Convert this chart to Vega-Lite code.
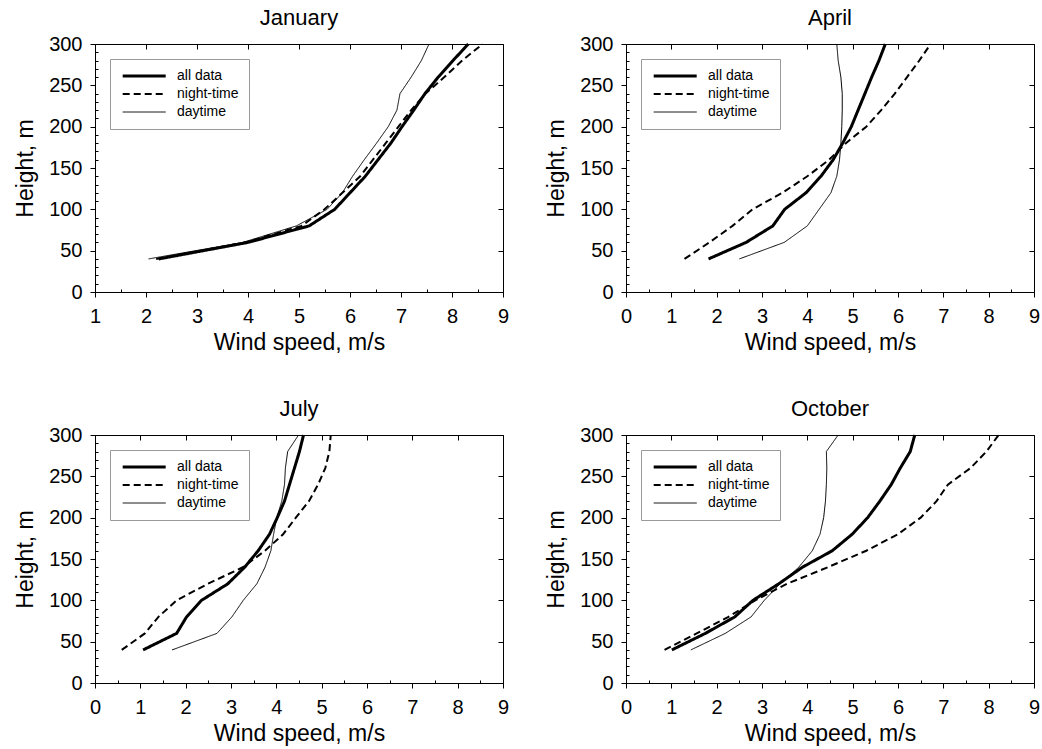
{
  "$schema": "https://vega.github.io/schema/vega-lite/v6.json",
  "padding": {"left": 14, "top": 6, "right": 5, "bottom": 5},
  "background": "white",
  "datasets": {
    "profiles": [
      {"month":"January","series":"all data","speed":2.25,"height":40},
      {"month":"January","series":"all data","speed":4.0,"height":60},
      {"month":"January","series":"all data","speed":5.2,"height":80},
      {"month":"January","series":"all data","speed":5.7,"height":100},
      {"month":"January","series":"all data","speed":6.0,"height":120},
      {"month":"January","series":"all data","speed":6.3,"height":140},
      {"month":"January","series":"all data","speed":6.55,"height":160},
      {"month":"January","series":"all data","speed":6.8,"height":180},
      {"month":"January","series":"all data","speed":7.02,"height":200},
      {"month":"January","series":"all data","speed":7.25,"height":220},
      {"month":"January","series":"all data","speed":7.47,"height":240},
      {"month":"January","series":"all data","speed":7.73,"height":260},
      {"month":"January","series":"all data","speed":8.02,"height":280},
      {"month":"January","series":"all data","speed":8.32,"height":300},
      {"month":"January","series":"night-time","speed":2.2,"height":40},
      {"month":"January","series":"night-time","speed":3.95,"height":60},
      {"month":"January","series":"night-time","speed":5.05,"height":80},
      {"month":"January","series":"night-time","speed":5.5,"height":100},
      {"month":"January","series":"night-time","speed":5.85,"height":120},
      {"month":"January","series":"night-time","speed":6.2,"height":140},
      {"month":"January","series":"night-time","speed":6.45,"height":160},
      {"month":"January","series":"night-time","speed":6.7,"height":180},
      {"month":"January","series":"night-time","speed":6.95,"height":200},
      {"month":"January","series":"night-time","speed":7.2,"height":220},
      {"month":"January","series":"night-time","speed":7.48,"height":240},
      {"month":"January","series":"night-time","speed":7.85,"height":260},
      {"month":"January","series":"night-time","speed":8.2,"height":280},
      {"month":"January","series":"night-time","speed":8.6,"height":300},
      {"month":"January","series":"daytime","speed":2.05,"height":40},
      {"month":"January","series":"daytime","speed":3.9,"height":60},
      {"month":"January","series":"daytime","speed":4.95,"height":80},
      {"month":"January","series":"daytime","speed":5.55,"height":100},
      {"month":"January","series":"daytime","speed":5.85,"height":120},
      {"month":"January","series":"daytime","speed":6.05,"height":140},
      {"month":"January","series":"daytime","speed":6.28,"height":160},
      {"month":"January","series":"daytime","speed":6.52,"height":180},
      {"month":"January","series":"daytime","speed":6.75,"height":200},
      {"month":"January","series":"daytime","speed":6.92,"height":220},
      {"month":"January","series":"daytime","speed":6.98,"height":240},
      {"month":"January","series":"daytime","speed":7.2,"height":260},
      {"month":"January","series":"daytime","speed":7.4,"height":280},
      {"month":"January","series":"daytime","speed":7.55,"height":300},

      {"month":"April","series":"all data","speed":1.82,"height":40},
      {"month":"April","series":"all data","speed":2.65,"height":60},
      {"month":"April","series":"all data","speed":3.24,"height":80},
      {"month":"April","series":"all data","speed":3.5,"height":100},
      {"month":"April","series":"all data","speed":3.97,"height":120},
      {"month":"April","series":"all data","speed":4.3,"height":140},
      {"month":"April","series":"all data","speed":4.57,"height":160},
      {"month":"April","series":"all data","speed":4.78,"height":180},
      {"month":"April","series":"all data","speed":4.97,"height":200},
      {"month":"April","series":"all data","speed":5.12,"height":220},
      {"month":"April","series":"all data","speed":5.27,"height":240},
      {"month":"April","series":"all data","speed":5.42,"height":260},
      {"month":"April","series":"all data","speed":5.58,"height":280},
      {"month":"April","series":"all data","speed":5.72,"height":300},
      {"month":"April","series":"night-time","speed":1.29,"height":40},
      {"month":"April","series":"night-time","speed":1.84,"height":60},
      {"month":"April","series":"night-time","speed":2.35,"height":80},
      {"month":"April","series":"night-time","speed":2.79,"height":100},
      {"month":"April","series":"night-time","speed":3.45,"height":120},
      {"month":"April","series":"night-time","speed":4.0,"height":140},
      {"month":"April","series":"night-time","speed":4.48,"height":160},
      {"month":"April","series":"night-time","speed":4.85,"height":180},
      {"month":"April","series":"night-time","speed":5.3,"height":200},
      {"month":"April","series":"night-time","speed":5.63,"height":220},
      {"month":"April","series":"night-time","speed":5.93,"height":240},
      {"month":"April","series":"night-time","speed":6.2,"height":260},
      {"month":"April","series":"night-time","speed":6.47,"height":280},
      {"month":"April","series":"night-time","speed":6.72,"height":300},
      {"month":"April","series":"daytime","speed":2.5,"height":40},
      {"month":"April","series":"daytime","speed":3.49,"height":60},
      {"month":"April","series":"daytime","speed":4.0,"height":80},
      {"month":"April","series":"daytime","speed":4.26,"height":100},
      {"month":"April","series":"daytime","speed":4.52,"height":120},
      {"month":"April","series":"daytime","speed":4.65,"height":140},
      {"month":"April","series":"daytime","speed":4.71,"height":160},
      {"month":"April","series":"daytime","speed":4.74,"height":180},
      {"month":"April","series":"daytime","speed":4.76,"height":200},
      {"month":"April","series":"daytime","speed":4.77,"height":220},
      {"month":"April","series":"daytime","speed":4.77,"height":240},
      {"month":"April","series":"daytime","speed":4.74,"height":260},
      {"month":"April","series":"daytime","speed":4.68,"height":280},
      {"month":"April","series":"daytime","speed":4.65,"height":300},

      {"month":"July","series":"all data","speed":1.06,"height":40},
      {"month":"July","series":"all data","speed":1.8,"height":60},
      {"month":"July","series":"all data","speed":2.02,"height":80},
      {"month":"July","series":"all data","speed":2.35,"height":100},
      {"month":"July","series":"all data","speed":2.93,"height":120},
      {"month":"July","series":"all data","speed":3.3,"height":140},
      {"month":"July","series":"all data","speed":3.6,"height":160},
      {"month":"July","series":"all data","speed":3.85,"height":180},
      {"month":"July","series":"all data","speed":4.02,"height":200},
      {"month":"July","series":"all data","speed":4.18,"height":220},
      {"month":"July","series":"all data","speed":4.29,"height":240},
      {"month":"July","series":"all data","speed":4.4,"height":260},
      {"month":"July","series":"all data","speed":4.51,"height":280},
      {"month":"July","series":"all data","speed":4.6,"height":300},
      {"month":"July","series":"night-time","speed":0.59,"height":40},
      {"month":"July","series":"night-time","speed":1.1,"height":60},
      {"month":"July","series":"night-time","speed":1.4,"height":80},
      {"month":"July","series":"night-time","speed":1.8,"height":100},
      {"month":"July","series":"night-time","speed":2.49,"height":120},
      {"month":"July","series":"night-time","speed":3.26,"height":140},
      {"month":"July","series":"night-time","speed":3.75,"height":160},
      {"month":"July","series":"night-time","speed":4.15,"height":180},
      {"month":"July","series":"night-time","speed":4.43,"height":200},
      {"month":"July","series":"night-time","speed":4.72,"height":220},
      {"month":"July","series":"night-time","speed":4.92,"height":240},
      {"month":"July","series":"night-time","speed":5.08,"height":260},
      {"month":"July","series":"night-time","speed":5.17,"height":280},
      {"month":"July","series":"night-time","speed":5.2,"height":300},
      {"month":"July","series":"daytime","speed":1.7,"height":40},
      {"month":"July","series":"daytime","speed":2.69,"height":60},
      {"month":"July","series":"daytime","speed":3.02,"height":80},
      {"month":"July","series":"daytime","speed":3.27,"height":100},
      {"month":"July","series":"daytime","speed":3.57,"height":120},
      {"month":"July","series":"daytime","speed":3.75,"height":140},
      {"month":"July","series":"daytime","speed":3.88,"height":160},
      {"month":"July","series":"daytime","speed":3.94,"height":180},
      {"month":"July","series":"daytime","speed":4.01,"height":200},
      {"month":"July","series":"daytime","speed":4.12,"height":220},
      {"month":"July","series":"daytime","speed":4.18,"height":240},
      {"month":"July","series":"daytime","speed":4.2,"height":260},
      {"month":"July","series":"daytime","speed":4.25,"height":280},
      {"month":"July","series":"daytime","speed":4.49,"height":300},

      {"month":"October","series":"all data","speed":1.01,"height":40},
      {"month":"October","series":"all data","speed":1.75,"height":60},
      {"month":"October","series":"all data","speed":2.4,"height":80},
      {"month":"October","series":"all data","speed":2.8,"height":100},
      {"month":"October","series":"all data","speed":3.37,"height":120},
      {"month":"October","series":"all data","speed":3.89,"height":140},
      {"month":"October","series":"all data","speed":4.55,"height":160},
      {"month":"October","series":"all data","speed":4.99,"height":180},
      {"month":"October","series":"all data","speed":5.33,"height":200},
      {"month":"October","series":"all data","speed":5.6,"height":220},
      {"month":"October","series":"all data","speed":5.85,"height":240},
      {"month":"October","series":"all data","speed":6.05,"height":260},
      {"month":"October","series":"all data","speed":6.27,"height":280},
      {"month":"October","series":"all data","speed":6.37,"height":300},
      {"month":"October","series":"night-time","speed":0.85,"height":40},
      {"month":"October","series":"night-time","speed":1.56,"height":60},
      {"month":"October","series":"night-time","speed":2.26,"height":80},
      {"month":"October","series":"night-time","speed":2.85,"height":100},
      {"month":"October","series":"night-time","speed":3.55,"height":120},
      {"month":"October","series":"night-time","speed":4.45,"height":140},
      {"month":"October","series":"night-time","speed":5.3,"height":160},
      {"month":"October","series":"night-time","speed":6.0,"height":180},
      {"month":"October","series":"night-time","speed":6.5,"height":200},
      {"month":"October","series":"night-time","speed":6.85,"height":220},
      {"month":"October","series":"night-time","speed":7.1,"height":240},
      {"month":"October","series":"night-time","speed":7.6,"height":260},
      {"month":"October","series":"night-time","speed":7.95,"height":280},
      {"month":"October","series":"night-time","speed":8.22,"height":300},
      {"month":"October","series":"daytime","speed":1.43,"height":40},
      {"month":"October","series":"daytime","speed":2.19,"height":60},
      {"month":"October","series":"daytime","speed":2.76,"height":80},
      {"month":"October","series":"daytime","speed":3.05,"height":100},
      {"month":"October","series":"daytime","speed":3.4,"height":120},
      {"month":"October","series":"daytime","speed":3.81,"height":140},
      {"month":"October","series":"daytime","speed":4.11,"height":160},
      {"month":"October","series":"daytime","speed":4.28,"height":180},
      {"month":"October","series":"daytime","speed":4.36,"height":200},
      {"month":"October","series":"daytime","speed":4.4,"height":220},
      {"month":"October","series":"daytime","speed":4.42,"height":240},
      {"month":"October","series":"daytime","speed":4.43,"height":260},
      {"month":"October","series":"daytime","speed":4.42,"height":280},
      {"month":"October","series":"daytime","speed":4.68,"height":300}
    ]
  },
  "data": {"name": "profiles"},
  "columns": 2,
  "spacing": {"row": 42, "column": 35},
  "concat": [
    {
      "title": "January",
      "width": 408, "height": 248,
      "transform": [{"filter": "datum.month == 'January'"}],
      "layer": [
        {
          "mark": {"type": "line", "color": "black"},
          "encoding": {
            "x": {"field": "speed", "type": "quantitative", "scale": {"domain": [1, 9], "nice": false, "zero": false}, "axis": {"orient": "bottom", "values": [1,2,3,4,5,6,7,8,9], "title": "Wind speed, m/s", "labelFontSize": 20, "titleFontSize": 23, "labelPadding": 9, "titlePadding": 5}},
            "y": {"field": "height", "type": "quantitative", "scale": {"domain": [0, 300], "nice": false}, "axis": {"orient": "left", "values": [0,50,100,150,200,250,300], "title": "Height, m", "labelFontSize": 20, "titleFontSize": 23, "labelPadding": 8, "titlePadding": 11}},
            "strokeDash": {"field": "series", "type": "nominal", "scale": {"domain": ["all data", "night-time", "daytime"], "range": [[1, 0], [7, 4], [1, 0]]}, "legend": {"title": null}},
            "strokeWidth": {"field": "series", "type": "ordinal", "scale": {"domain": ["all data", "night-time", "daytime"], "range": [3, 1, 1]}, "legend": {"title": null}},
            "order": {"field": "height", "type": "quantitative"}
          }
        },
        {
          "mark": {"type": "line", "strokeOpacity": 0},
          "encoding": {
            "x": {"field": "speed", "type": "quantitative", "scale": {"domain": [1, 9], "nice": false, "zero": false}, "axis": {"orient": "top", "values": [1,2,3,4,5,6,7,8,9], "labels": false, "title": null, "tickSize": -5, "domain": false}},
            "y": {"field": "height", "type": "quantitative", "scale": {"domain": [0, 300], "nice": false}, "axis": {"orient": "right", "values": [0,50,100,150,200,250,300], "labels": false, "title": null, "tickSize": -5, "domain": false}},
            "detail": {"field": "series"}
          }
        },
        {
          "mark": {"type": "line", "strokeOpacity": 0},
          "encoding": {
            "x": {"field": "speed", "type": "quantitative", "scale": {"domain": [1, 9], "nice": false, "zero": false}, "axis": {"orient": "bottom", "values": [1.5,2.5,3.5,4.5,5.5,6.5,7.5,8.5], "labels": false, "title": null, "tickSize": -3, "domain": false}},
            "y": {"field": "height", "type": "quantitative", "scale": {"domain": [0, 300], "nice": false}, "axis": {"orient": "left", "values": [10,20,30,40,60,70,80,90,110,120,130,140,160,170,180,190,210,220,230,240,260,270,280,290], "labels": false, "title": null, "tickSize": -3, "domain": false}},
            "detail": {"field": "series"}
          }
        }
      ],
      "resolve": {"axis": {"x": "independent", "y": "independent"}}
    },
    {
      "title": "April",
      "width": 408, "height": 248,
      "transform": [{"filter": "datum.month == 'April'"}],
      "layer": [
        {
          "mark": {"type": "line", "color": "black"},
          "encoding": {
            "x": {"field": "speed", "type": "quantitative", "scale": {"domain": [0, 9], "nice": false, "zero": false}, "axis": {"orient": "bottom", "values": [0,1,2,3,4,5,6,7,8,9], "title": "Wind speed, m/s", "labelFontSize": 20, "titleFontSize": 23, "labelPadding": 9, "titlePadding": 5}},
            "y": {"field": "height", "type": "quantitative", "scale": {"domain": [0, 300], "nice": false}, "axis": {"orient": "left", "values": [0,50,100,150,200,250,300], "title": "Height, m", "labelFontSize": 20, "titleFontSize": 23, "labelPadding": 8, "titlePadding": 11}},
            "strokeDash": {"field": "series", "type": "nominal", "scale": {"domain": ["all data", "night-time", "daytime"], "range": [[1, 0], [7, 4], [1, 0]]}, "legend": {"title": null}},
            "strokeWidth": {"field": "series", "type": "ordinal", "scale": {"domain": ["all data", "night-time", "daytime"], "range": [3, 1, 1]}, "legend": {"title": null}},
            "order": {"field": "height", "type": "quantitative"}
          }
        },
        {
          "mark": {"type": "line", "strokeOpacity": 0},
          "encoding": {
            "x": {"field": "speed", "type": "quantitative", "scale": {"domain": [0, 9], "nice": false, "zero": false}, "axis": {"orient": "top", "values": [0,1,2,3,4,5,6,7,8,9], "labels": false, "title": null, "tickSize": -5, "domain": false}},
            "y": {"field": "height", "type": "quantitative", "scale": {"domain": [0, 300], "nice": false}, "axis": {"orient": "right", "values": [0,50,100,150,200,250,300], "labels": false, "title": null, "tickSize": -5, "domain": false}},
            "detail": {"field": "series"}
          }
        },
        {
          "mark": {"type": "line", "strokeOpacity": 0},
          "encoding": {
            "x": {"field": "speed", "type": "quantitative", "scale": {"domain": [0, 9], "nice": false, "zero": false}, "axis": {"orient": "bottom", "values": [0.5,1.5,2.5,3.5,4.5,5.5,6.5,7.5,8.5], "labels": false, "title": null, "tickSize": -3, "domain": false}},
            "y": {"field": "height", "type": "quantitative", "scale": {"domain": [0, 300], "nice": false}, "axis": {"orient": "left", "values": [10,20,30,40,60,70,80,90,110,120,130,140,160,170,180,190,210,220,230,240,260,270,280,290], "labels": false, "title": null, "tickSize": -3, "domain": false}},
            "detail": {"field": "series"}
          }
        }
      ],
      "resolve": {"axis": {"x": "independent", "y": "independent"}}
    },
    {
      "title": "July",
      "width": 408, "height": 248,
      "transform": [{"filter": "datum.month == 'July'"}],
      "layer": [
        {
          "mark": {"type": "line", "color": "black"},
          "encoding": {
            "x": {"field": "speed", "type": "quantitative", "scale": {"domain": [0, 9], "nice": false, "zero": false}, "axis": {"orient": "bottom", "values": [0,1,2,3,4,5,6,7,8,9], "title": "Wind speed, m/s", "labelFontSize": 20, "titleFontSize": 23, "labelPadding": 9, "titlePadding": 5}},
            "y": {"field": "height", "type": "quantitative", "scale": {"domain": [0, 300], "nice": false}, "axis": {"orient": "left", "values": [0,50,100,150,200,250,300], "title": "Height, m", "labelFontSize": 20, "titleFontSize": 23, "labelPadding": 8, "titlePadding": 11}},
            "strokeDash": {"field": "series", "type": "nominal", "scale": {"domain": ["all data", "night-time", "daytime"], "range": [[1, 0], [7, 4], [1, 0]]}, "legend": {"title": null}},
            "strokeWidth": {"field": "series", "type": "ordinal", "scale": {"domain": ["all data", "night-time", "daytime"], "range": [3, 1, 1]}, "legend": {"title": null}},
            "order": {"field": "height", "type": "quantitative"}
          }
        },
        {
          "mark": {"type": "line", "strokeOpacity": 0},
          "encoding": {
            "x": {"field": "speed", "type": "quantitative", "scale": {"domain": [0, 9], "nice": false, "zero": false}, "axis": {"orient": "top", "values": [0,1,2,3,4,5,6,7,8,9], "labels": false, "title": null, "tickSize": -5, "domain": false}},
            "y": {"field": "height", "type": "quantitative", "scale": {"domain": [0, 300], "nice": false}, "axis": {"orient": "right", "values": [0,50,100,150,200,250,300], "labels": false, "title": null, "tickSize": -5, "domain": false}},
            "detail": {"field": "series"}
          }
        },
        {
          "mark": {"type": "line", "strokeOpacity": 0},
          "encoding": {
            "x": {"field": "speed", "type": "quantitative", "scale": {"domain": [0, 9], "nice": false, "zero": false}, "axis": {"orient": "bottom", "values": [0.5,1.5,2.5,3.5,4.5,5.5,6.5,7.5,8.5], "labels": false, "title": null, "tickSize": -3, "domain": false}},
            "y": {"field": "height", "type": "quantitative", "scale": {"domain": [0, 300], "nice": false}, "axis": {"orient": "left", "values": [10,20,30,40,60,70,80,90,110,120,130,140,160,170,180,190,210,220,230,240,260,270,280,290], "labels": false, "title": null, "tickSize": -3, "domain": false}},
            "detail": {"field": "series"}
          }
        }
      ],
      "resolve": {"axis": {"x": "independent", "y": "independent"}}
    },
    {
      "title": "October",
      "width": 408, "height": 248,
      "transform": [{"filter": "datum.month == 'October'"}],
      "layer": [
        {
          "mark": {"type": "line", "color": "black"},
          "encoding": {
            "x": {"field": "speed", "type": "quantitative", "scale": {"domain": [0, 9], "nice": false, "zero": false}, "axis": {"orient": "bottom", "values": [0,1,2,3,4,5,6,7,8,9], "title": "Wind speed, m/s", "labelFontSize": 20, "titleFontSize": 23, "labelPadding": 9, "titlePadding": 5}},
            "y": {"field": "height", "type": "quantitative", "scale": {"domain": [0, 300], "nice": false}, "axis": {"orient": "left", "values": [0,50,100,150,200,250,300], "title": "Height, m", "labelFontSize": 20, "titleFontSize": 23, "labelPadding": 8, "titlePadding": 11}},
            "strokeDash": {"field": "series", "type": "nominal", "scale": {"domain": ["all data", "night-time", "daytime"], "range": [[1, 0], [7, 4], [1, 0]]}, "legend": {"title": null}},
            "strokeWidth": {"field": "series", "type": "ordinal", "scale": {"domain": ["all data", "night-time", "daytime"], "range": [3, 1, 1]}, "legend": {"title": null}},
            "order": {"field": "height", "type": "quantitative"}
          }
        },
        {
          "mark": {"type": "line", "strokeOpacity": 0},
          "encoding": {
            "x": {"field": "speed", "type": "quantitative", "scale": {"domain": [0, 9], "nice": false, "zero": false}, "axis": {"orient": "top", "values": [0,1,2,3,4,5,6,7,8,9], "labels": false, "title": null, "tickSize": -5, "domain": false}},
            "y": {"field": "height", "type": "quantitative", "scale": {"domain": [0, 300], "nice": false}, "axis": {"orient": "right", "values": [0,50,100,150,200,250,300], "labels": false, "title": null, "tickSize": -5, "domain": false}},
            "detail": {"field": "series"}
          }
        },
        {
          "mark": {"type": "line", "strokeOpacity": 0},
          "encoding": {
            "x": {"field": "speed", "type": "quantitative", "scale": {"domain": [0, 9], "nice": false, "zero": false}, "axis": {"orient": "bottom", "values": [0.5,1.5,2.5,3.5,4.5,5.5,6.5,7.5,8.5], "labels": false, "title": null, "tickSize": -3, "domain": false}},
            "y": {"field": "height", "type": "quantitative", "scale": {"domain": [0, 300], "nice": false}, "axis": {"orient": "left", "values": [10,20,30,40,60,70,80,90,110,120,130,140,160,170,180,190,210,220,230,240,260,270,280,290], "labels": false, "title": null, "tickSize": -3, "domain": false}},
            "detail": {"field": "series"}
          }
        }
      ],
      "resolve": {"axis": {"x": "independent", "y": "independent"}}
    }
  ],
  "resolve": {
    "scale": {"x": "independent", "y": "independent", "strokeDash": "independent", "strokeWidth": "independent"},
    "axis": {"x": "independent", "y": "independent"},
    "legend": {"strokeDash": "independent", "strokeWidth": "independent"}
  },
  "config": {
    "font": "Liberation Sans",
    "view": {"stroke": "black", "strokeWidth": 1},
    "title": {"font": "Liberation Sans", "fontSize": 22, "fontWeight": "normal", "color": "black", "offset": 0, "anchor": "middle"},
    "axis": {
      "grid": false,
      "domainColor": "black",
      "tickColor": "black",
      "tickSize": 5,
      "labelColor": "black",
      "titleColor": "black",
      "labelFont": "Liberation Sans",
      "titleFont": "Liberation Sans",
      "titleFontWeight": "normal",
      "labelFlush": false,
      "labelOverlap": false
    },
    "legend": {
      "orient": "top-left",
      "offset": 15,
      "strokeColor": "#999999",
      "padding": 10,
      "symbolType": "M-1,0H9",
      "symbolSize": 74,
      "symbolStrokeColor": "black",
      "labelFont": "Liberation Sans",
      "labelFontSize": 14,
      "labelColor": "black",
      "labelOffset": 43,
      "rowPadding": 4
    }
  }
}
